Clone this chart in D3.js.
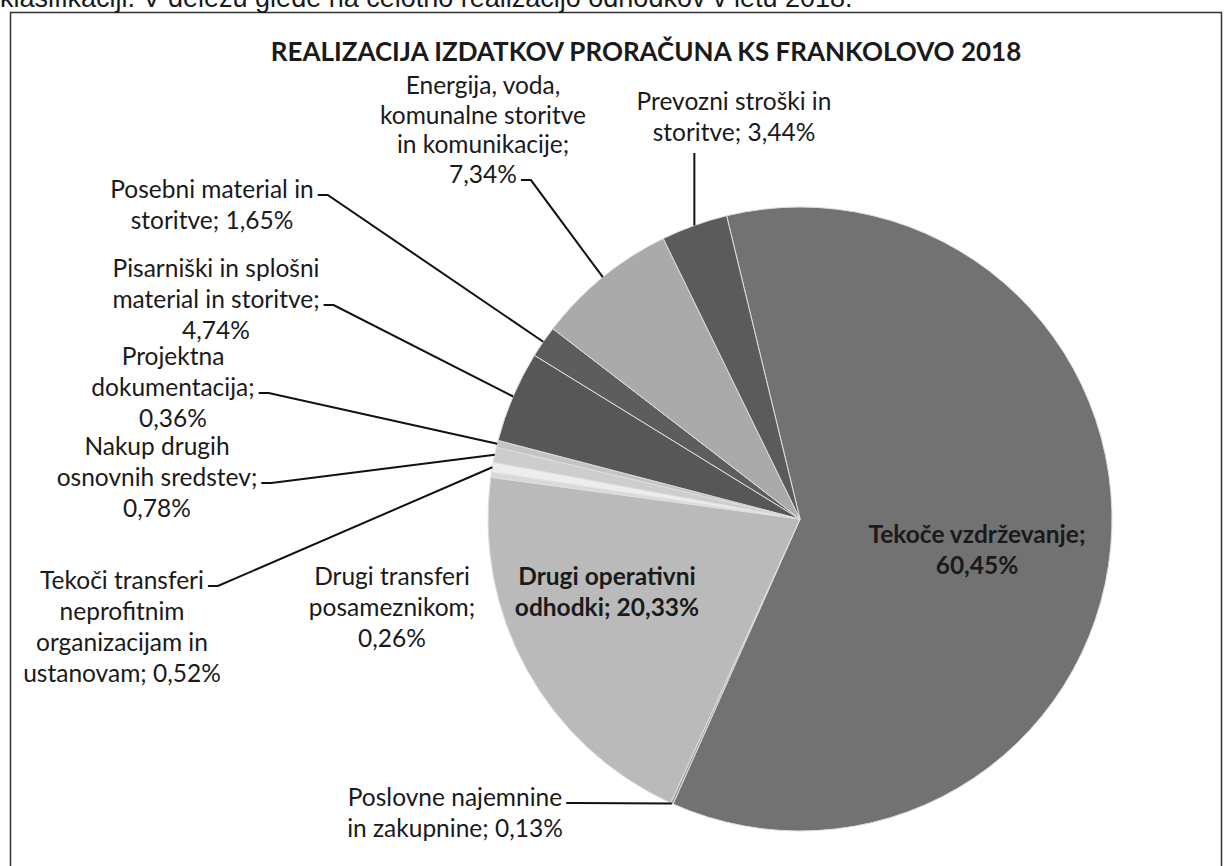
<!DOCTYPE html>
<html><head><meta charset="utf-8">
<script src="https://cdn.jsdelivr.net/npm/d3@7"></script>
<style>
html,body{margin:0;padding:0;background:#fff;}
svg{display:block;}
text{font-family:Lato,"Open Sans",sans-serif;fill:#1a1a1a;}
</style></head>
<body>
<svg id="c" width="1226" height="866"></svg>
<script>
// ---- data ----
const title = "REALIZACIJA IZDATKOV PRORAČUNA KS FRANKOLOVO 2018";
const introText = "klasifikaciji. V deležu glede na celotno realizacijo odhodkov v letu 2018.";
const categories = [
  "Tekoče vzdrževanje",
  "Poslovne najemnine in zakupnine",
  "Drugi operativni odhodki",
  "Drugi transferi posameznikom",
  "Tekoči transferi neprofitnim organizacijam in ustanovam",
  "Nakup drugih osnovnih sredstev",
  "Projektna dokumentacija",
  "Pisarniški in splošni material in storitve",
  "Posebni material in storitve",
  "Energija, voda, komunalne storitve in komunikacije",
  "Prevozni stroški in storitve"
];
const values = [60.45, 0.13, 20.33, 0.26, 0.52, 0.78, 0.36, 4.74, 1.65, 7.34, 3.44];
// words per label line
const wrapWords = [[2,1],[2,3],[2,2],[2,1,1],[2,1,2,2],[2,2,1],[1,1,1],[3,3,1],[3,2],[2,2,2,1],[3,2]];

// ---- styles / layout ----
const colors = ["#727272","#9c9c9c","#bababa","#d9d9d9","#ededed","#cdcdcd","#c4c4c4","#575757","#5d5d5d","#aaaaaa","#5b5b5b"];
const layout = [
  {cx:977, y:543, bold:true},
  {cx:455, y:806, lead:0},
  {cx:607, y:585, bold:true},
  {cx:392, y:585},
  {cx:122, y:589, lead:0},
  {cx:157, y:455, lead:1},
  {cx:173, y:365, lead:1},
  {cx:216, y:277, lead:1},
  {cx:212, y:198, lead:0},
  {cx:483, y:94, lead:3, lh:29.7},
  {cx:734, y:110, vertical:true}
];
const lineH = 31;
const cx = 800, cy = 519, R = 312;
const startDeg = -13.6;

const svg = d3.select("#c");

// frame
svg.append("path").attr("d","M10.5,866 V12.5 H1221.5 V866")
  .attr("fill","none").attr("stroke","#333").attr("stroke-width",1.5);

// clipped intro text at top
svg.append("text").attr("x",0).attr("y",7).style("font-family","'Liberation Sans',Arial,sans-serif")
  .style("font-size","27px").text(introText);

svg.append("text").attr("x",646).attr("y",61).attr("text-anchor","middle")
  .style("font-size","26px").style("font-weight","bold").text(title);

const start = startDeg*Math.PI/180;
const pie = d3.pie().sort(null).value(d=>d).startAngle(start).endAngle(start+2*Math.PI);
const arcs = pie(values);
const arc = d3.arc().innerRadius(0).outerRadius(R);

const g = svg.append("g").attr("transform",`translate(${cx},${cy})`);
g.selectAll("path.s").data(arcs).join("path").attr("class","s")
  .attr("d",arc).attr("fill",(d,i)=>colors[i])
  .attr("stroke","#dedede").attr("stroke-width",1);

const fmt = v => d3.format(".2f")(v).replace(".",",") + "%";

function labelLines(i){
  const words = (categories[i] + "; " + fmt(values[i])).split(" ");
  const out=[]; let k=0;
  wrapWords[i].forEach(n=>{ out.push(words.slice(k,k+n).join(" ")); k+=n; });
  return out;
}

const lg = svg.append("g");
arcs.forEach((a,i)=>{
  const L = layout[i];
  const lh = L.lh || lineH;
  const lines = labelLines(i);
  const t = lg.append("text").attr("text-anchor","middle")
    .style("font-size","24.5px").style("font-weight",L.bold?"bold":"normal");
  const tspans = lines.map((s,j)=> t.append("tspan").attr("x",L.cx).attr("y",L.y+j*lh).text(s));
  const mid = (a.startAngle+a.endAngle)/2;
  const px = cx + R*Math.sin(mid), py = cy - R*Math.cos(mid);
  if (L.lead!==undefined){
    const w = tspans[L.lead].node().getComputedTextLength();
    const lx = L.cx + w/2 + 4, ly = L.y + L.lead*lh - 3;
    lg.append("path").attr("d",`M${lx},${ly} H${lx+10} L${px},${py}`)
      .attr("fill","none").attr("stroke","#111").attr("stroke-width",2);
  } else if (L.vertical){
    const ly = L.y + (lines.length-1)*lh + 12;
    lg.append("path").attr("d",`M${px},${ly} V${py}`)
      .attr("fill","none").attr("stroke","#111").attr("stroke-width",2);
  }
});
</script>
</body></html>
